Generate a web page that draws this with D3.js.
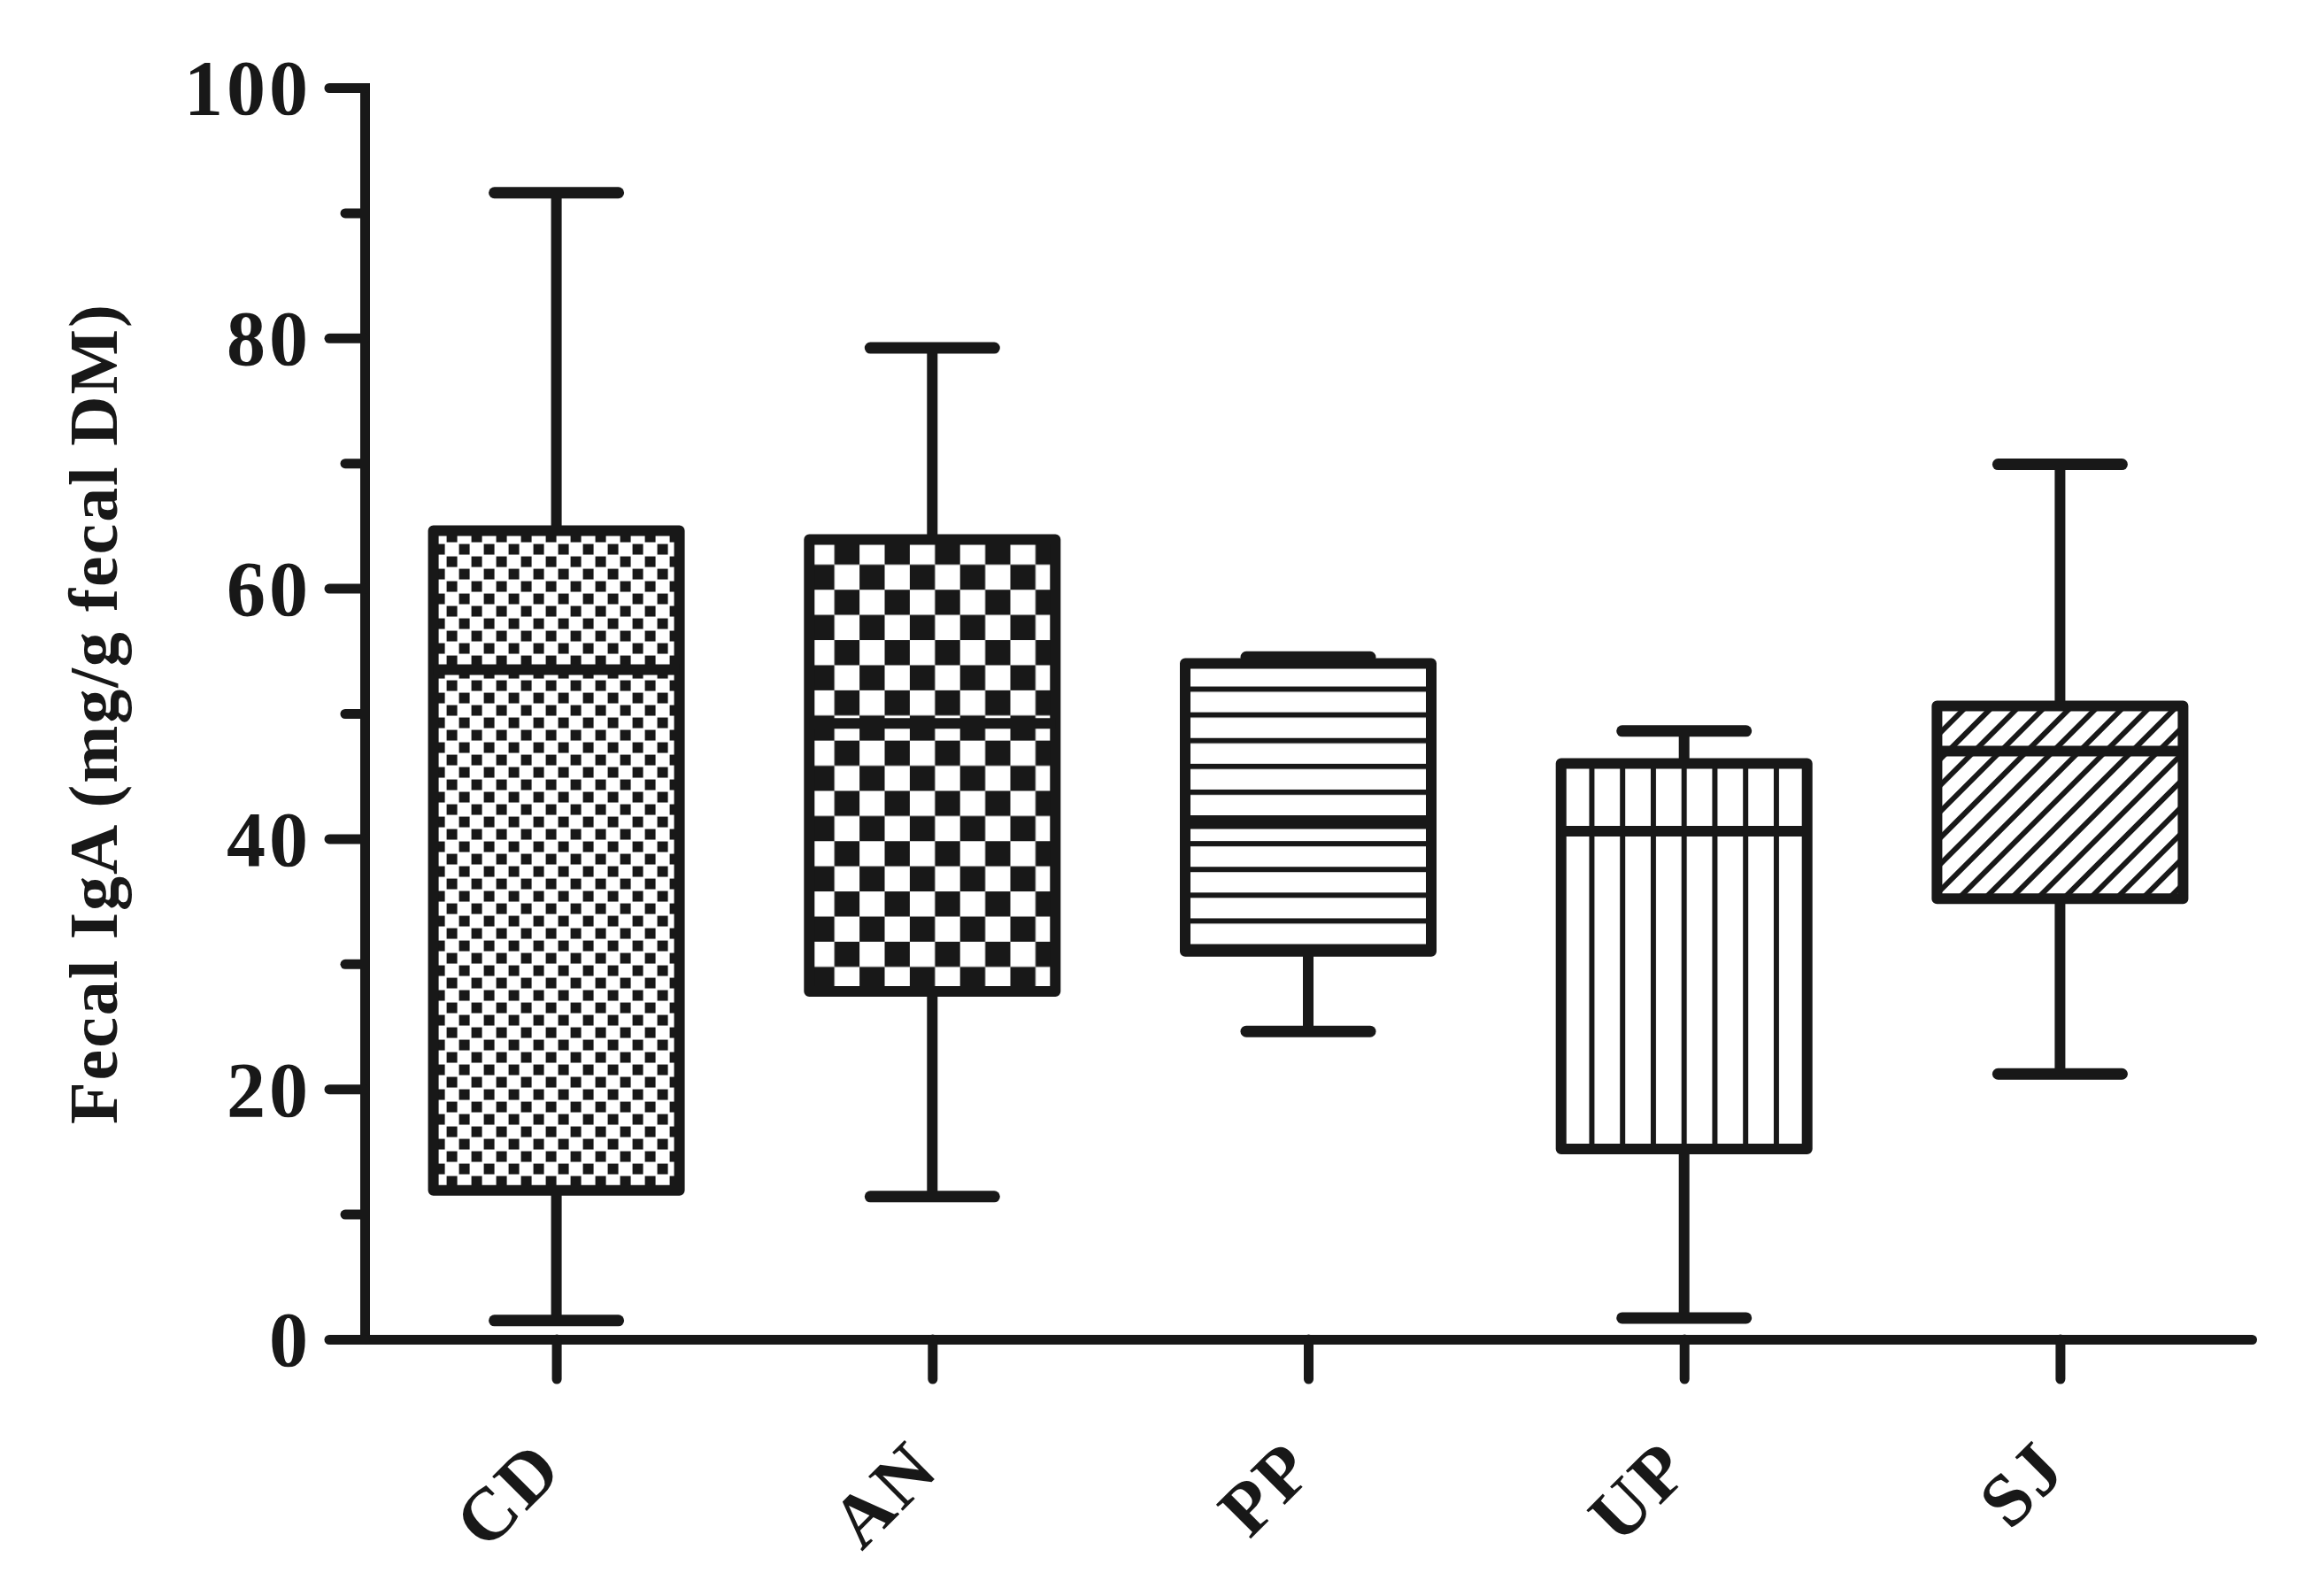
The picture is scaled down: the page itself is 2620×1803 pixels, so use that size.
<!DOCTYPE html>
<html>
<head>
<meta charset="utf-8">
<script src="https://cdn.jsdelivr.net/npm/d3@7"></script>
<style>
  body { margin: 0; background: #fff; }
  svg { display: block; }
</style>
</head>
<body>
<div id="chart"></div>
<script>
var svgWidth = 2620;
var svgHeight = 1803;

// box plot values
var groups  = ["CD", "AN", "PP", "UP", "SJ"];
var mins    = [1.5, 11.4, 24.6, 1.7, 21.2];
var q1s     = [11.9, 27.8, 31.0, 15.2, 35.2];
var medians = [53.5, 49.2, 41.2, 40.6, 47.0];
var q3s     = [64.6, 63.9, 54.0, 46.0, 50.6];
var maxs    = [91.6, 79.2, 54.5, 48.6, 69.9];

var majorTicks = [0, 20, 40, 60, 80, 100];
var minorTicks = [10, 30, 50, 70, 90];

var ink = "#181818";
var font = "'Liberation Serif', 'Times New Roman', serif";

var svg = d3.select("#chart")
    .append("svg")
    .attr("width", svgWidth)
    .attr("height", svgHeight);

// scales
var y = d3.scaleLinear().domain([0, 100]).range([1513, 99]);
var x = d3.scalePoint().domain(groups).range([412, 2544]).padding(0.51);

var boxW = 278;
var capHalf = 70;

// fill patterns
var defs = svg.append("defs");

// fine checker (CD)
var p1 = defs.append("pattern").attr("id", "pat-CD")
    .attr("patternUnits", "userSpaceOnUse").attr("width", 28).attr("height", 28);
p1.append("rect").attr("width", 28).attr("height", 28).attr("fill", "#fff");
p1.append("rect").attr("x", 15).attr("y", 1).attr("width", 12).attr("height", 12).attr("fill", ink);
p1.append("rect").attr("x", 1).attr("y", 15).attr("width", 12).attr("height", 12).attr("fill", ink);

// coarse checker (AN)
var p2 = defs.append("pattern").attr("id", "pat-AN")
    .attr("patternUnits", "userSpaceOnUse").attr("width", 56.8).attr("height", 56.8);
p2.append("rect").attr("width", 56.8).attr("height", 56.8).attr("fill", "#fff");
p2.append("rect").attr("x", 28.4).attr("y", 0).attr("width", 28.4).attr("height", 28.4).attr("fill", ink);
p2.append("rect").attr("x", 0).attr("y", 28.4).attr("width", 28.4).attr("height", 28.4).attr("fill", ink);

// horizontal lines (PP)
var p3 = defs.append("pattern").attr("id", "pat-PP")
    .attr("patternUnits", "userSpaceOnUse").attr("width", 40).attr("height", 29.1).attr("y", -3);
p3.append("rect").attr("width", 40).attr("height", 29.1).attr("fill", "#fff");
p3.append("rect").attr("width", 40).attr("height", 6).attr("fill", ink);

// vertical lines (UP)
var p4 = defs.append("pattern").attr("id", "pat-UP")
    .attr("patternUnits", "userSpaceOnUse").attr("width", boxW / 8).attr("height", 40).attr("x", -3);
p4.append("rect").attr("width", boxW / 8).attr("height", 40).attr("fill", "#fff");
p4.append("rect").attr("width", 6).attr("height", 40).attr("fill", ink);

// diagonal hatch (SJ)
var p5 = defs.append("pattern").attr("id", "pat-SJ")
    .attr("patternUnits", "userSpaceOnUse").attr("width", 21).attr("height", 40)
    .attr("patternTransform", "rotate(45)");
p5.append("rect").attr("width", 21).attr("height", 40).attr("fill", "#fff");
p5.append("rect").attr("width", 6).attr("height", 40).attr("fill", ink);

// axes
var leftAxis = d3.axisLeft(y)
    .tickValues(majorTicks)
    .tickSize(40)
    .tickSizeOuter(0)
    .tickPadding(20)
    .tickFormat(d3.format("d"));

var minorAxis = d3.axisLeft(y)
    .tickValues(minorTicks)
    .tickSize(22)
    .tickFormat("");

var bottomAxis = d3.axisBottom(x)
    .tickSize(45)
    .tickSizeOuter(0);

var xAxisG = svg.append("g")
    .attr("transform", "translate(0, 1513)")
    .call(bottomAxis);

xAxisG.select(".domain")
    .attr("stroke", ink).attr("stroke-width", 11).attr("stroke-linecap", "round");
xAxisG.selectAll(".tick line")
    .attr("stroke", ink).attr("stroke-width", 11).attr("stroke-linecap", "round");
xAxisG.selectAll(".tick text")
    .attr("x", 0).attr("y", 0).attr("dy", 0)
    .attr("text-anchor", "end")
    .attr("transform", "translate(10, 150) rotate(-45)")
    .attr("fill", ink)
    .style("font-family", font)
    .style("font-weight", "bold")
    .style("font-size", "84px")
    .style("letter-spacing", "3px");

var minorG = svg.append("g")
    .attr("transform", "translate(412, 0)")
    .call(minorAxis);
minorG.select(".domain").remove();
minorG.selectAll(".tick line")
    .attr("stroke", ink).attr("stroke-width", 11).attr("stroke-linecap", "round");

var yAxisG = svg.append("g")
    .attr("transform", "translate(412, 0)")
    .call(leftAxis);
yAxisG.select(".domain")
    .attr("stroke", ink).attr("stroke-width", 11).attr("stroke-linecap", "square");
yAxisG.selectAll(".tick line")
    .attr("stroke", ink).attr("stroke-width", 11).attr("stroke-linecap", "round");
yAxisG.selectAll(".tick text")
    .attr("fill", ink)
    .attr("dy", "0.34em")
    .style("font-family", font)
    .style("font-weight", "bold")
    .style("font-size", "88px")
    .style("letter-spacing", "4px");

// axis title
svg.append("text")
    .attr("transform", "translate(132, 807) rotate(-90)")
    .attr("text-anchor", "middle")
    .attr("textLength", 926)
    .attr("lengthAdjust", "spacing")
    .attr("fill", ink)
    .style("font-family", font)
    .style("font-weight", "bold")
    .style("font-size", "78px")
    .text("Fecal IgA (mg/g fecal DM)");

// boxes
var boxData = groups.map(function (g, i) {
    return { name: g, min: mins[i], q1: q1s[i], med: medians[i], q3: q3s[i], max: maxs[i] };
});

var boxes = svg.append("g").selectAll("g")
    .data(boxData)
    .enter()
    .append("g");

// whiskers
boxes.append("line")
    .attr("x1", d => x(d.name)).attr("x2", d => x(d.name))
    .attr("y1", d => y(d.q3)).attr("y2", d => y(d.max))
    .attr("stroke", ink).attr("stroke-width", 12);

boxes.append("line")
    .attr("x1", d => x(d.name)).attr("x2", d => x(d.name))
    .attr("y1", d => y(d.q1)).attr("y2", d => y(d.min))
    .attr("stroke", ink).attr("stroke-width", 12);

// caps
boxes.append("line")
    .attr("x1", d => x(d.name) - capHalf).attr("x2", d => x(d.name) + capHalf)
    .attr("y1", d => y(d.max)).attr("y2", d => y(d.max))
    .attr("stroke", ink).attr("stroke-width", 13).attr("stroke-linecap", "round");

boxes.append("line")
    .attr("x1", d => x(d.name) - capHalf).attr("x2", d => x(d.name) + capHalf)
    .attr("y1", d => y(d.min)).attr("y2", d => y(d.min))
    .attr("stroke", ink).attr("stroke-width", 13).attr("stroke-linecap", "round");

// box body: drawn in its own frame so the pattern starts at the box corner
var body = boxes.append("g")
    .attr("transform", d => `translate(${x(d.name) - boxW / 2}, ${y(d.q3)})`);

body.append("rect")
    .attr("width", boxW)
    .attr("height", d => y(d.q1) - y(d.q3))
    .attr("fill", d => `url(#pat-${d.name})`)
    .attr("stroke", ink)
    .attr("stroke-width", 12)
    .attr("stroke-linejoin", "round");

body.append("line")
    .attr("x1", 0).attr("x2", boxW)
    .attr("y1", d => y(d.med) - y(d.q3)).attr("y2", d => y(d.med) - y(d.q3))
    .attr("stroke", ink).attr("stroke-width", 12);
</script>
</body>
</html>
